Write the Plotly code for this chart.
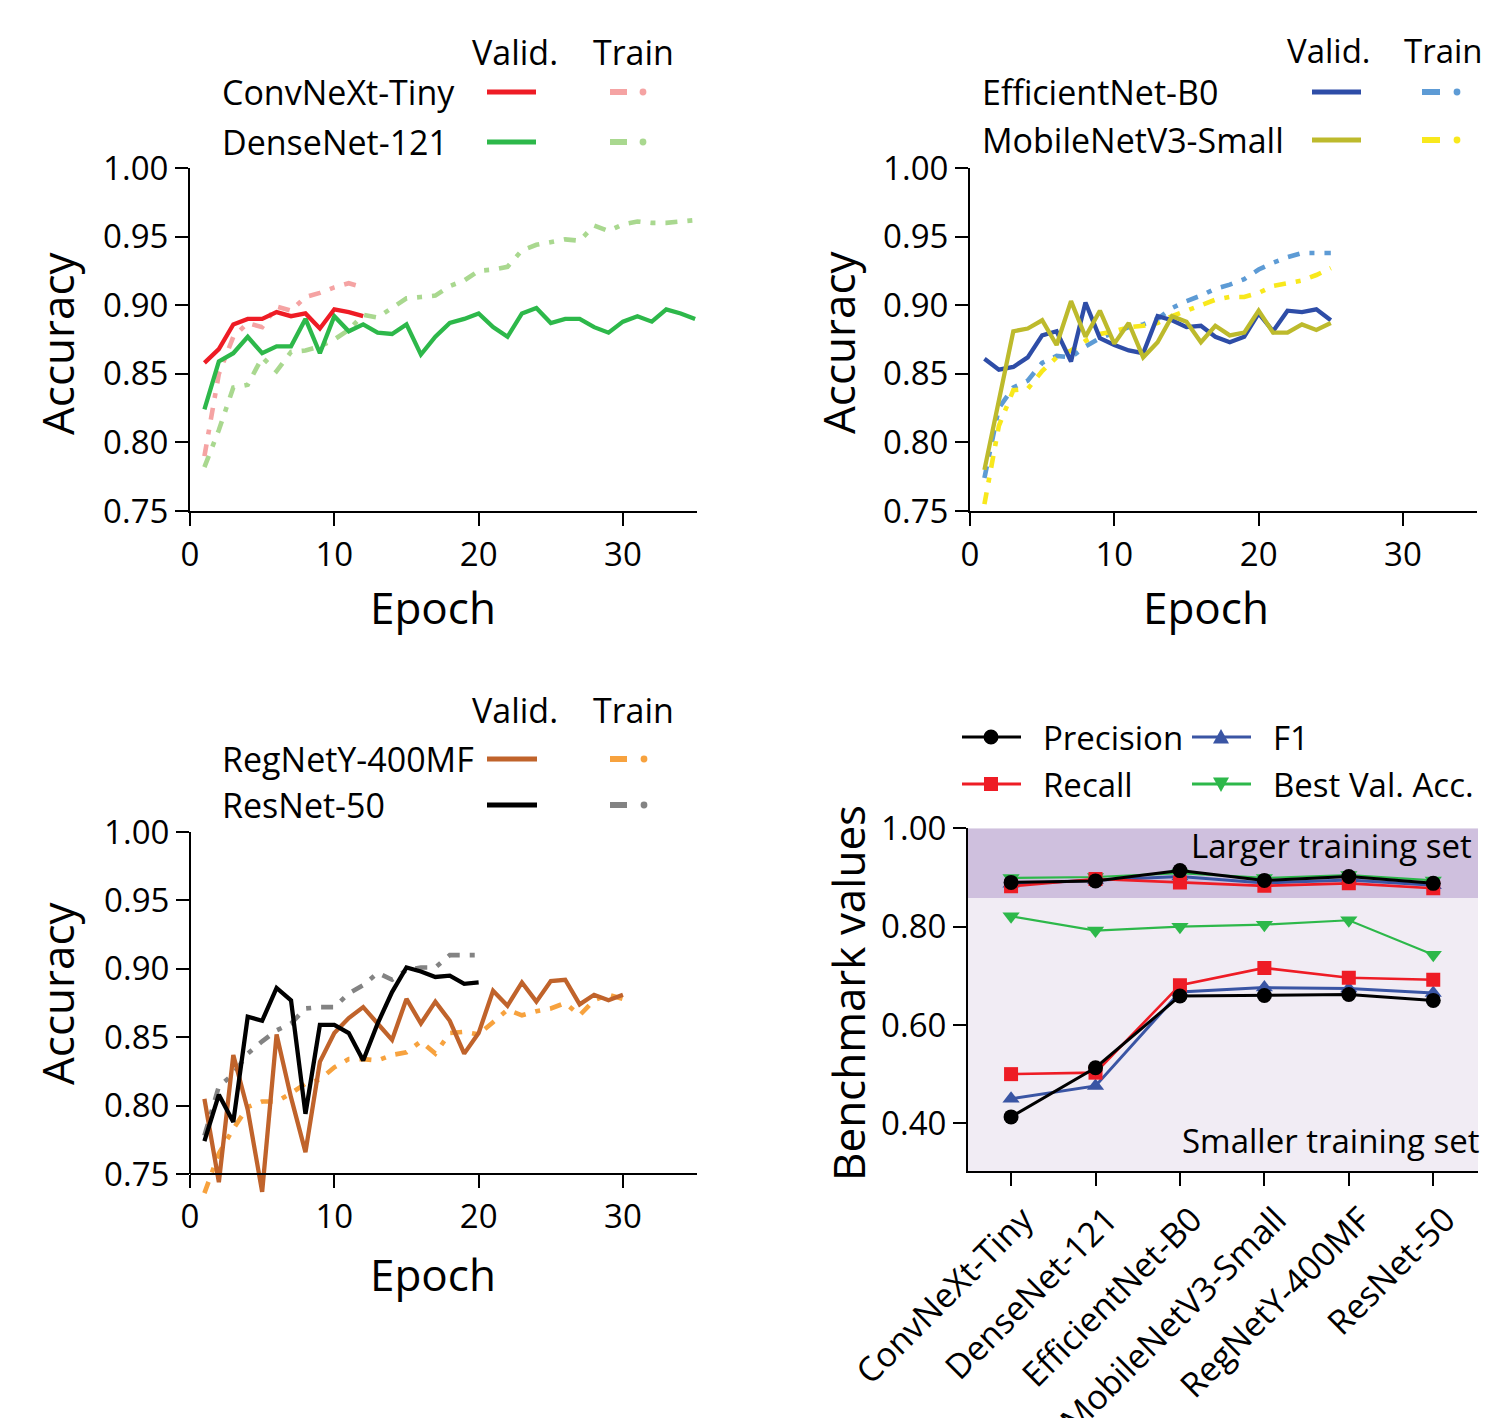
import plotly.graph_objects as go

OFF = 8  # page body margin of the browser
W, H = 1491 - OFF, 1418 - OFF
FONT = "Open Sans"

# ---------------- data ----------------
conv_valid = [0.858, 0.868, 0.886, 0.890, 0.890, 0.895, 0.892, 0.894, 0.883, 0.897, 0.895, 0.892]
conv_train = [0.790, 0.850, 0.877, 0.887, 0.884, 0.899, 0.896, 0.906, 0.909, 0.913, 0.916, 0.913]
dense_valid = [0.824, 0.859, 0.865, 0.877, 0.865, 0.870, 0.870, 0.890, 0.865, 0.892,
               0.881, 0.886, 0.880, 0.879, 0.886, 0.864, 0.877, 0.887, 0.890, 0.894,
               0.884, 0.877, 0.894, 0.898, 0.887, 0.890, 0.890, 0.884, 0.880, 0.888,
               0.892, 0.888, 0.897, 0.894, 0.890]
dense_train = [0.782, 0.809, 0.840, 0.842, 0.862, 0.852, 0.866, 0.867, 0.870, 0.875,
               0.882, 0.893, 0.891, 0.898, 0.905, 0.906, 0.907, 0.914, 0.918, 0.925,
               0.926, 0.928, 0.940, 0.944, 0.946, 0.948, 0.947, 0.958, 0.954, 0.959,
               0.961, 0.960, 0.960, 0.961, 0.962]

eff_valid = [0.861, 0.853, 0.855, 0.862, 0.878, 0.881, 0.859, 0.902, 0.876, 0.871,
             0.867, 0.865, 0.892, 0.889, 0.884, 0.885, 0.877, 0.873, 0.877, 0.894,
             0.881, 0.896, 0.895, 0.897, 0.889]
eff_train = [0.774, 0.825, 0.840, 0.845, 0.858, 0.863, 0.862, 0.870, 0.876, 0.880,
             0.884, 0.886, 0.890, 0.898, 0.903, 0.907, 0.912, 0.915, 0.919, 0.926,
             0.931, 0.935, 0.938, 0.938, 0.938]
mob_valid = [0.780, 0.831, 0.881, 0.883, 0.889, 0.871, 0.903, 0.877, 0.896, 0.872,
             0.887, 0.862, 0.873, 0.892, 0.888, 0.873, 0.885, 0.878, 0.880, 0.896,
             0.880, 0.880, 0.886, 0.882, 0.887]
mob_train = [0.755, 0.812, 0.838, 0.839, 0.852, 0.862, 0.867, 0.874, 0.879, 0.881,
             0.884, 0.885, 0.887, 0.892, 0.896, 0.900, 0.904, 0.906, 0.906, 0.909,
             0.914, 0.916, 0.918, 0.922, 0.927]

reg_valid = [0.805, 0.744, 0.837, 0.797, 0.737, 0.852, 0.806, 0.766, 0.832, 0.853,
             0.864, 0.872, 0.860, 0.848, 0.878, 0.860, 0.876, 0.862, 0.838, 0.853,
             0.884, 0.873, 0.890, 0.876, 0.891, 0.892, 0.874, 0.881, 0.877, 0.881]
reg_train = [0.736, 0.765, 0.783, 0.799, 0.803, 0.803, 0.809, 0.816, 0.819, 0.828,
             0.834, 0.834, 0.833, 0.837, 0.839, 0.847, 0.838, 0.853, 0.854, 0.852,
             0.861, 0.870, 0.866, 0.869, 0.871, 0.875, 0.866, 0.877, 0.881, 0.878]
res_valid = [0.774, 0.808, 0.788, 0.865, 0.862, 0.886, 0.877, 0.794, 0.859, 0.859,
             0.853, 0.833, 0.860, 0.883, 0.901, 0.898, 0.894, 0.895, 0.889, 0.890]
res_train = [0.778, 0.814, 0.823, 0.838, 0.847, 0.855, 0.860, 0.871, 0.872, 0.872,
             0.882, 0.888, 0.897, 0.892, 0.899, 0.901, 0.901, 0.910, 0.910, 0.910]

models = ["ConvNeXt-Tiny", "DenseNet-121", "EfficientNet-B0",
          "MobileNetV3-Small", "RegNetY-400MF", "ResNet-50"]
prec_large = [0.890, 0.893, 0.914, 0.894, 0.902, 0.888]
rec_large = [0.882, 0.897, 0.890, 0.883, 0.888, 0.878]
f1_large = [0.887, 0.895, 0.902, 0.889, 0.895, 0.884]
acc_large = [0.899, 0.901, 0.909, 0.899, 0.905, 0.894]
prec_small = [0.413, 0.513, 0.659, 0.660, 0.662, 0.650]
rec_small = [0.500, 0.503, 0.681, 0.716, 0.696, 0.692]
f1_small = [0.450, 0.476, 0.667, 0.676, 0.674, 0.665]
acc_small = [0.821, 0.792, 0.800, 0.804, 0.813, 0.743]
split_value = 0.858

acc_ticks = [0.75, 0.80, 0.85, 0.90, 0.95, 1.00]
epoch_ticks = [0, 10, 20, 30]
bench_ticks = [0.40, 0.60, 0.80, 1.00]

# ---------------- styles ----------------
C = dict(
    conv_v="#EE1C25", conv_t="#F5A3A3",
    dense_v="#2DB84A", dense_t="#A9D88F",
    eff_v="#2E4DA7", eff_t="#5D9BD5",
    mob_v="#BDBA2C", mob_t="#F8E81C",
    reg_v="#C0632B", reg_t="#F7A23E",
    res_v="#000000", res_t="#838383",
    prec="#000000", rec="#EE1C25", f1="#3A55A4", acc="#2DB84A",
)
DASHDOT = "12px,10px,5px,10px"
LW = 4.3


def px_x(p):
    return (p - OFF) / W


def px_y(p):
    return 1 - (p - OFF) / H


fig = go.Figure()


def add_curve(vals, color, xa, ya, train=False):
    fig.add_trace(go.Scatter(
        x=list(range(1, len(vals) + 1)), y=vals, mode="lines",
        line=dict(color=color, width=LW + (0.3 if train else 0),
                  dash=DASHDOT if train else "solid"),
        xaxis=xa, yaxis=ya, hoverinfo="skip", showlegend=False))


# panel 1
add_curve(dense_train, C["dense_t"], "x", "y", True)
add_curve(conv_train, C["conv_t"], "x", "y", True)
add_curve(dense_valid, C["dense_v"], "x", "y")
add_curve(conv_valid, C["conv_v"], "x", "y")
# panel 2
add_curve(eff_train, C["eff_t"], "x2", "y2", True)
add_curve(mob_train, C["mob_t"], "x2", "y2", True)
add_curve(eff_valid, C["eff_v"], "x2", "y2")
add_curve(mob_valid, C["mob_v"], "x2", "y2")
# panel 3
add_curve(res_train, C["res_t"], "x3", "y3", True)
add_curve(reg_train, C["reg_t"], "x3", "y3", True)
add_curve(reg_valid, C["reg_v"], "x3", "y3")
add_curve(res_valid, C["res_v"], "x3", "y3")

# panel 4
bench = [
    (acc_large, acc_small, C["acc"], "triangle-down", 15, 2.2),
    (f1_large, f1_small, C["f1"], "triangle-up", 15, 3),
    (rec_large, rec_small, C["rec"], "square", 14, 2.6),
    (prec_large, prec_small, C["prec"], "circle", 15, 3),
]
for big, small, col, sym, size, lw in bench:
    for vals in (big, small):
        fig.add_trace(go.Scatter(
            x=models, y=vals, mode="lines+markers",
            line=dict(color=col, width=lw),
            marker=dict(symbol=sym, size=size, color=col, line=dict(width=0)),
            xaxis="x4", yaxis="y4", hoverinfo="skip", showlegend=False))

axis_common = dict(
    showline=True, linecolor="black", linewidth=2, ticks="outside",
    ticklen=13, tickwidth=2, tickcolor="black", showgrid=False, zeroline=False,
    tickfont=dict(family=FONT, size=33, color="black"), mirror=False,
    automargin=False,
)


def xdom(a, b):
    return [px_x(a), px_x(b)]


def ydom(top, bottom):
    return [px_y(bottom), px_y(top)]


acc_y = dict(axis_common, range=[0.75, 1.0], tickmode="array", tickvals=acc_ticks,
             ticktext=[f"{v:.2f}" for v in acc_ticks])
ep_x = dict(axis_common, range=[0, 35.13], tickmode="array", tickvals=epoch_ticks,
            ticktext=[str(v) for v in epoch_ticks])

# panel 3: let curves dip slightly below the 0.75 axis line (as in the original)
p3_top, p3_bot = 832, 1174
p3_low = 0.73
p3_bot_ext = p3_bot + (0.75 - p3_low) / 0.25 * (p3_bot - p3_top)

fig.update_layout(
    template="none",
    width=W, height=H, margin=dict(l=0, r=0, t=0, b=0, pad=0),
    paper_bgcolor="white", plot_bgcolor="white", showlegend=False,
    font=dict(family=FONT, color="black"),
    xaxis=dict(ep_x, domain=xdom(190, 697), anchor="y"),
    yaxis=dict(acc_y, domain=ydom(168, 511), anchor="x"),
    xaxis2=dict(ep_x, domain=xdom(970, 1477), anchor="y2"),
    yaxis2=dict(acc_y, domain=ydom(168, 511), anchor="x2"),
    xaxis3=dict(ep_x, domain=xdom(190, 697), anchor="free", position=px_y(p3_bot)),
    yaxis3=dict(acc_y, domain=ydom(p3_top, p3_bot_ext), anchor="x3",
                range=[p3_low, 1.0], showline=False),
    xaxis4=dict(axis_common, domain=xdom(968, 1478), anchor="y4", type="category",
                range=[-0.51, 5.53], tickangle=-45, ticklabelshift=12,
                tickfont=dict(family=FONT, size=34, color="black")),
    yaxis4=dict(axis_common, domain=ydom(828.3, 1171), anchor="x4", range=[0.303, 1.0],
                tickmode="array", tickvals=bench_ticks,
                ticktext=[f"{v:.2f}" for v in bench_ticks]),
)

shapes = []
annotations = []

# y-axis line of panel 3 (ends at the x axis)
shapes.append(dict(type="line", xref="x3 domain", yref="y3", x0=0, x1=0,
                   y0=0.75, y1=1.0, line=dict(color="black", width=2)))

# background bands in panel 4
shapes.append(dict(type="rect", xref="x4 domain", yref="y4", x0=0, x1=1,
                   y0=split_value, y1=1.0, fillcolor="#CFC0DE", line=dict(width=0),
                   layer="below"))
shapes.append(dict(type="rect", xref="x4 domain", yref="y4", x0=0, x1=1,
                   y0=0.303, y1=split_value, fillcolor="#F1ECF4", line=dict(width=0),
                   layer="below"))


def text(s, x, y, size=34, xanchor="left", yanchor="middle", angle=0):
    annotations.append(dict(text=s, x=px_x(x), y=px_y(y), xref="paper", yref="paper",
                            showarrow=False, xanchor=xanchor, yanchor=yanchor,
                            textangle=angle,
                            font=dict(family=FONT, size=size, color="black")))


def hline(x0, x1, y, color, width=5):
    shapes.append(dict(type="line", xref="paper", yref="paper", x0=px_x(x0), x1=px_x(x1),
                       y0=px_y(y), y1=px_y(y), line=dict(color=color, width=width)))


def dot(cx, cy, r, color):
    shapes.append(dict(type="circle", xref="paper", yref="paper",
                       x0=px_x(cx - r), x1=px_x(cx + r), y0=px_y(cy + r), y1=px_y(cy - r),
                       fillcolor=color, line=dict(width=0)))


def rect(cx, cy, r, color):
    shapes.append(dict(type="rect", xref="paper", yref="paper",
                       x0=px_x(cx - r), x1=px_x(cx + r), y0=px_y(cy + r), y1=px_y(cy - r),
                       fillcolor=color, line=dict(width=0)))


def tri(cx, cy, r, color, up=True):
    s = 1 if up else -1
    pts = [(cx - r, cy + s * r * 0.8), (cx + r, cy + s * r * 0.8), (cx, cy - s * r * 1.0)]
    path = "M " + " L ".join(f"{px_x(a):.5f},{px_y(b):.5f}" for a, b in pts) + " Z"
    shapes.append(dict(type="path", xref="paper", yref="paper", path=path,
                       fillcolor=color, line=dict(width=0)))


def model_legend(x_head_v, x_head_t, y_head, x_name, rows, x_line, x_dash, x_dot,
                 head_size=34):
    text("Valid.", x_head_v, y_head, xanchor="center", size=head_size)
    text("Train", x_head_t, y_head, xanchor="left", size=head_size)
    for name, y, cv, ct in rows:
        text(name, x_name, y)
        hline(x_line[0], x_line[1], y, cv, 5)
        hline(x_dash[0], x_dash[1], y, ct, 6)
        dot(x_dot, y, 3.4, ct)


model_legend(515, 591, 52, 220,
             [("ConvNeXt-Tiny", 92, C["conv_v"], C["conv_t"]),
              ("DenseNet-121", 142, C["dense_v"], C["dense_t"])],
             (487, 536), (610, 627), 643)
model_legend(1329, 1402, 50, 980,
             [("EfficientNet-B0", 92, C["eff_v"], C["eff_t"]),
              ("MobileNetV3-Small", 140, C["mob_v"], C["mob_t"])],
             (1312, 1361), (1422, 1440), 1457, head_size=33)
model_legend(515, 591, 710, 220,
             [("RegNetY-400MF", 759, C["reg_v"], C["reg_t"]),
              ("ResNet-50", 805, C["res_v"], C["res_t"])],
             (487, 537), (610, 627), 644)

# panel 4 legend
hline(962, 1021, 737, C["prec"], 3)
dot(991, 737, 7.5, C["prec"])
text("Precision", 1041, 737, size=33)
hline(1192, 1251, 737, C["f1"], 3)
tri(1221, 737, 8, C["f1"], up=True)
text("F1", 1271, 737, size=33)
hline(962, 1021, 784, C["rec"], 3)
rect(991, 784, 7, C["rec"])
text("Recall", 1041, 784, size=33)
hline(1192, 1251, 784, C["acc"], 3)
tri(1221, 784, 8, C["acc"], up=False)
text("Best Val. Acc.", 1271, 784, size=33)

# band labels
text("Larger training set", 1474, 845, size=33, xanchor="right")
text("Smaller training set", 1481, 1140, size=33, xanchor="right")

# axis titles
text("Accuracy", 57, 343, size=44, xanchor="center", angle=-90)
text("Accuracy", 838, 343, size=44, xanchor="center", angle=-90)
text("Accuracy", 57, 993, size=44, xanchor="center", angle=-90)
text("Benchmark values", 848, 993, size=44, xanchor="center", angle=-90)
text("Epoch", 433, 607, size=44, xanchor="center")
text("Epoch", 1206, 607, size=44, xanchor="center")
text("Epoch", 433, 1274, size=44, xanchor="center")

fig.update_layout(shapes=shapes, annotations=annotations)
fig.write_html("out.html")
